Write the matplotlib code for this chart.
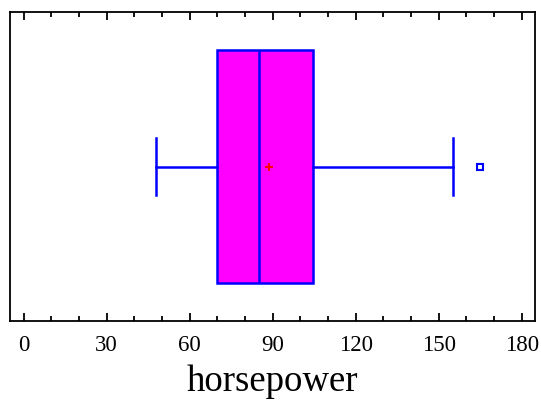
import matplotlib
matplotlib.use("Agg")
import matplotlib.pyplot as plt
from matplotlib.ticker import MultipleLocator

plt.rcParams['font.family'] = ['Liberation Serif', 'DejaVu Serif']

# box plot summary of horsepower
label = "horsepower"
whisker_low = 48
q1 = 70
median = 85
q3 = 104.5
whisker_high = 155
mean = 88.5
outliers = [165]

stats = [dict(whislo=whisker_low, q1=q1, med=median, q3=q3, whishi=whisker_high,
              mean=mean, fliers=outliers, label="")]

fig = plt.figure(figsize=(5.41, 4.0), dpi=100)
ax = fig.add_axes([0.018, 0.1975, 0.971, 0.7725])

blue = "#0000ff"
ax.bxp(stats, positions=[0.5], widths=0.754, vert=False, patch_artist=True,
       showmeans=True, capwidths=0.185,
       boxprops=dict(facecolor="#ff00ff", edgecolor=blue, linewidth=1.8),
       medianprops=dict(color=blue, linewidth=1.8),
       whiskerprops=dict(color=blue, linewidth=1.8),
       capprops=dict(color=blue, linewidth=1.8),
       meanprops=dict(marker="+", markeredgecolor="red", markersize=6, markeredgewidth=1.5),
       flierprops=dict(marker="s", markerfacecolor="none", markeredgecolor=blue,
                       markersize=4, markeredgewidth=1.5))

ax.set_xlim(-5, 184.8)
ax.set_ylim(0, 1)
ax.set_yticks([])
ax.xaxis.set_major_locator(MultipleLocator(30))
ax.xaxis.set_minor_locator(MultipleLocator(10))
ax.tick_params(axis="x", which="both", direction="in", top=True, labelsize=16.5, pad=10)
ax.tick_params(axis="x", which="major", length=5.5, width=1.3)
ax.tick_params(axis="x", which="minor", length=3.5, width=1.3)
for s in ax.spines.values():
    s.set_linewidth(1.3)
ax.set_xlabel(label, fontsize=26.5, labelpad=6.5)

fig.savefig("out.png", dpi=100)
